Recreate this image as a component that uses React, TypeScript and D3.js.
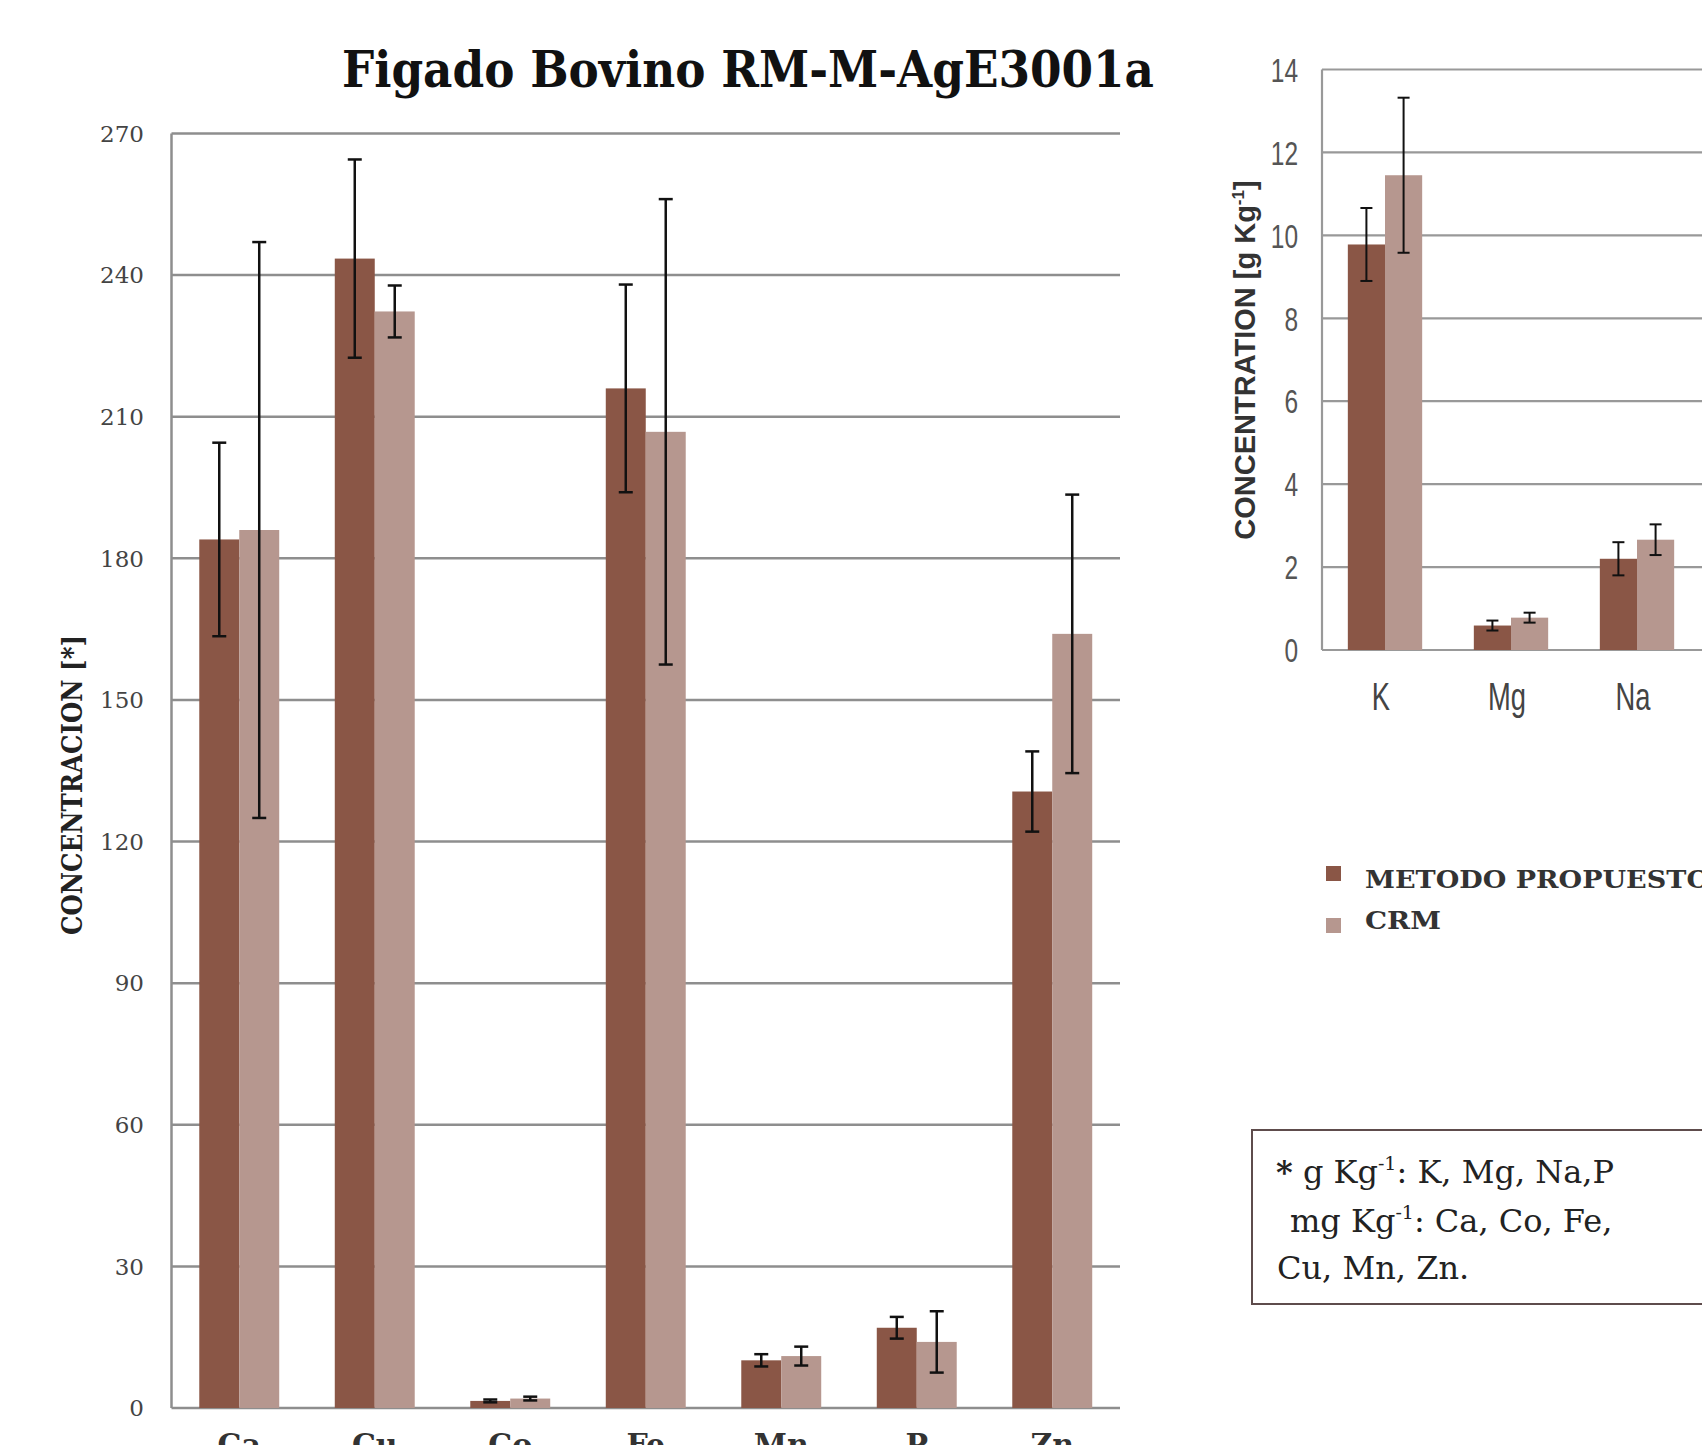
import * as React from "react";
import * as d3 from "d3";

// trace elements, mg Kg-1 (except P)
const ELEMENTS = ["Ca", "Cu", "Co", "Fe", "Mn", "P", "Zn"];
const METODO = [184, 243.5, 1.5, 216, 10.1, 17, 130.6];
const METODO_ERR = [20.5, 21, 0.3, 22, 1.3, 2.3, 8.5];
const CRM = [186, 232.3, 2.0, 206.8, 11, 14, 164];
const CRM_ERR = [61, 5.5, 0.4, 49.3, 2, 6.5, 29.5];
const Y_TICKS = [0, 30, 60, 90, 120, 150, 180, 210, 240, 270];

// major elements, g Kg-1
const MAJOR = ["K", "Mg", "Na"];
const MAJOR_METODO = [9.78, 0.59, 2.2];
const MAJOR_METODO_ERR = [0.88, 0.12, 0.4];
const MAJOR_CRM = [11.45, 0.78, 2.66];
const MAJOR_CRM_ERR = [1.87, 0.12, 0.37];
const MAJOR_TICKS = [0, 2, 4, 6, 8, 10, 12, 14];

const SERIES = ["METODO PROPUESTO", "CRM"];
const COLORS = ["#8a5646", "#b6978f"];

const W = 1702;
const H = 1445;

const SERIF = "'DejaVu Serif', serif";
const SANS = "'Liberation Sans', Arial, sans-serif";

// left panel frame
const L = { left: 171.5, right: 1120, top: 133.5, bottom: 1408 };
// right panel frame
const R = { left: 1322, step: 126, top: 69.5, bottom: 650 };

interface BarsProps {
  cats: string[];
  x: d3.ScaleBand<string>;
  y: d3.ScaleLinear<number, number>;
  values: number[][];
  errors: number[][];
  capW: number;
  errW: number;
}

function Bars({ cats, x, y, values, errors, capW, errW }: BarsProps) {
  const inner = d3
    .scaleBand<number>()
    .domain(values.map((_, i) => i))
    .range([0, x.bandwidth()]);
  const bw = inner.bandwidth();
  return (
    <g>
      {cats.map((c, j) =>
        values.map((vals, s) => {
          const x0 = (x(c) ?? 0) + (inner(s) ?? 0);
          const v = vals[j];
          const e = errors[s][j];
          const cx = x0 + bw / 2;
          return (
            <g key={`${c}-${s}`}>
              <rect x={x0} y={y(v)} width={bw} height={y(0) - y(v)} fill={COLORS[s]} />
              <g stroke="#111" strokeWidth={errW}>
                <line x1={cx} x2={cx} y1={y(v + e)} y2={y(v - e)} />
                <line x1={cx - capW / 2} x2={cx + capW / 2} y1={y(v + e)} y2={y(v + e)} />
                <line x1={cx - capW / 2} x2={cx + capW / 2} y1={y(v - e)} y2={y(v - e)} />
              </g>
            </g>
          );
        }),
      )}
    </g>
  );
}

export default function App() {
  const xL = d3
    .scaleBand<string>()
    .domain(ELEMENTS)
    .range([L.left, L.right])
    .paddingInner(0.41)
    .paddingOuter(0.205);
  const yL = d3.scaleLinear().domain([0, 270]).range([L.bottom, L.top]);

  const xR = d3
    .scaleBand<string>()
    .domain(MAJOR)
    .range([R.left, R.left + R.step * MAJOR.length])
    .paddingInner(0.41)
    .paddingOuter(0.205);
  const yR = d3.scaleLinear().domain([0, 14]).range([R.bottom, R.top]);

  return (
    <svg
      width={W}
      height={H}
      style={{ position: "absolute", left: 0, top: 0, background: "#fff" }}
    >
      <rect width={W} height={H} fill="#fff" />

      {/* title */}
      <text
        x={748}
        y={87}
        textAnchor="middle"
        fontFamily={SERIF}
        fontWeight="bold"
        fontSize={50}
        textLength={812}
        lengthAdjust="spacingAndGlyphs"
        fill="#111"
      >
        Figado Bovino RM-M-AgE3001a
      </text>

      {/* left panel */}
      {Y_TICKS.map((t) => (
        <g key={`l-${t}`}>
          <line x1={L.left} x2={L.right} y1={yL(t)} y2={yL(t)} stroke="#8e8e8e" strokeWidth={2.5} />
          <text
            x={144}
            y={yL(t)}
            dy="0.36em"
            textAnchor="end"
            fontFamily={SERIF}
            fontSize={23}
            fill="#444"
          >
            {t}
          </text>
        </g>
      ))}
      <line x1={L.left} x2={L.left} y1={L.top} y2={L.bottom} stroke="#8e8e8e" strokeWidth={2.5} />
      <Bars
        cats={ELEMENTS}
        x={xL}
        y={yL}
        values={[METODO, CRM]}
        errors={[METODO_ERR, CRM_ERR]}
        capW={14}
        errW={2.5}
      />
      {ELEMENTS.map((c) => (
        <text
          key={`lx-${c}`}
          x={(xL(c) ?? 0) + xL.bandwidth() / 2}
          y={1455}
          textAnchor="middle"
          fontFamily={SERIF}
          fontWeight="bold"
          fontSize={30}
          fill="#333"
        >
          {c}
        </text>
      ))}
      <text
        transform={`translate(82,785) rotate(-90)`}
        textAnchor="middle"
        fontFamily={SERIF}
        fontWeight="bold"
        fontSize={27}
        textLength={300}
        lengthAdjust="spacingAndGlyphs"
        fill="#222"
      >
        CONCENTRACION [*]
      </text>

      {/* right panel */}
      {MAJOR_TICKS.map((t) => (
        <g key={`r-${t}`}>
          <line x1={R.left} x2={W} y1={yR(t)} y2={yR(t)} stroke="#999" strokeWidth={2.2} />
          <text
            transform={`translate(1298,${yR(t)}) scale(0.72,1)`}
            dy="0.36em"
            textAnchor="end"
            fontFamily={SANS}
            fontSize={34}
            fill="#555"
          >
            {t}
          </text>
        </g>
      ))}
      <line x1={R.left} x2={R.left} y1={R.top} y2={R.bottom} stroke="#999" strokeWidth={2.2} />
      <Bars
        cats={MAJOR}
        x={xR}
        y={yR}
        values={[MAJOR_METODO, MAJOR_CRM]}
        errors={[MAJOR_METODO_ERR, MAJOR_CRM_ERR]}
        capW={12}
        errW={2}
      />
      {MAJOR.map((c) => (
        <text
          key={`rx-${c}`}
          transform={`translate(${(xR(c) ?? 0) + xR.bandwidth() / 2 - 4},710) scale(0.72,1)`}
          textAnchor="middle"
          fontFamily={SANS}
          fontSize={38}
          fill="#444"
        >
          {c}
        </text>
      ))}
      <text
        transform={`translate(1255,360) rotate(-90)`}
        textAnchor="middle"
        fontFamily={SANS}
        fontWeight="bold"
        fontSize={29}
        fill="#333"
      >
        CONCENTRATION{"  "}[g Kg
        <tspan fontSize={17} dy={-11}>-1</tspan>
        <tspan dy={11}>]</tspan>
      </text>

      {/* legend */}
      {SERIES.map((s, i) => (
        <g key={s}>
          <rect x={1326} y={866 + i * 52} width={15} height={15} fill={COLORS[i]} />
          <text
            x={1365}
            y={888 + i * 41}
            fontFamily={SERIF}
            fontWeight="bold"
            fontSize={25}
            textLength={i === 0 ? 345 : 76}
            lengthAdjust="spacingAndGlyphs"
            fill="#333"
          >
            {s}
          </text>
        </g>
      ))}

      {/* units note */}
      <rect x={1252} y={1130} width={520} height={174} fill="#fff" stroke="#5e4c4c" strokeWidth={2} />
      <g fontFamily={SERIF} fontSize={32} fill="#222">
        <text x={1276} y={1183}>
          <tspan fontWeight="bold">*</tspan> g Kg
          <tspan fontSize={19} dy={-13}>-1</tspan>
          <tspan dy={13}>: K, Mg, Na,P</tspan>
        </text>
        <text x={1290} y={1232}>
          mg Kg
          <tspan fontSize={19} dy={-13}>-1</tspan>
          <tspan dy={13}>: Ca, Co, Fe,</tspan>
        </text>
        <text x={1277} y={1279}>
          Cu, Mn, Zn.
        </text>
      </g>
    </svg>
  );
}
